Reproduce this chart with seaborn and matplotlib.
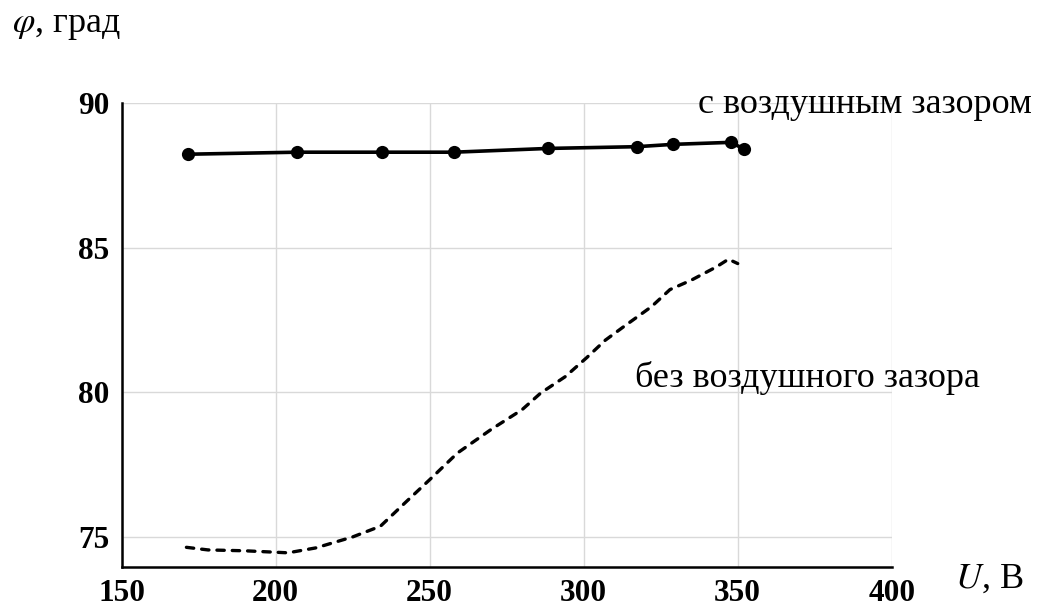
import pandas as pd
import seaborn as sns
from matplotlib import pyplot as plt

# с воздушным зазором (точки)
u_gap = [171.6, 206.8, 234.6, 257.9, 288.5, 317.2, 328.9, 347.7, 352.1]
phi_gap = [88.23, 88.30, 88.30, 88.30, 88.43, 88.49, 88.57, 88.64, 88.41]

# без воздушного зазора (пунктир)
u_nogap = [171, 178, 190, 204, 213, 225, 234, 242, 250, 259, 270, 280, 286,
           294, 301, 307, 313, 322, 328, 335, 343, 347, 350]
phi_nogap = [74.64, 74.55, 74.52, 74.45, 74.62, 75.0, 75.37, 76.18, 76.98, 77.9,
             78.72, 79.4, 79.97, 80.54, 81.2, 81.8, 82.27, 82.96, 83.55, 83.88,
             84.33, 84.6, 84.45]

x_ticks = [150, 200, 250, 300, 350, 400]
y_ticks = [75, 80, 85, 90]

df_gap = pd.DataFrame({"U": u_gap, "phi": phi_gap})
df_nogap = pd.DataFrame({"U": u_nogap, "phi": phi_nogap})

sns.set_theme(style="whitegrid")
plt.rcParams["font.family"] = ["Liberation Serif", "DejaVu Serif"]
plt.rcParams["mathtext.fontset"] = "stix"
plt.rcParams["text.color"] = "black"

fig = plt.figure(figsize=(10.37, 6.11), dpi=100)
ax = fig.add_axes([0.1174, 0.0725, 0.7425, 0.7589])

sns.lineplot(data=df_gap, x="U", y="phi", ax=ax, color="black", linewidth=2.6,
             marker="o", markersize=9.5, markeredgewidth=0, sort=False)
sns.lineplot(data=df_nogap, x="U", y="phi", ax=ax, color="black", linewidth=2.4,
             sort=False, dashes=False)
ax.lines[-1].set_dashes([2.2, 2.4])
ax.lines[-1].set_dash_capstyle("round")

ax.set_xlim(150, 400)
ax.set_ylim(73.97, 90)
ax.set_xticks(x_ticks)
ax.set_yticks(y_ticks)
ax.set_xlabel("")
ax.set_ylabel("")

ax.grid(True, color="#d9d9d9", linewidth=1.0)
for side in ["top", "right"]:
    ax.spines[side].set_visible(False)
for side in ["left", "bottom"]:
    ax.spines[side].set_color("black")
    ax.spines[side].set_linewidth(1.8)

ax.tick_params(axis="both", direction="inout", length=12, width=1.6, color="black",
               labelcolor="black", labelsize=22.5, pad=3)
for lab in ax.get_xticklabels() + ax.get_yticklabels():
    lab.set_fontweight("bold")

ax.text(337, 89.67, "с воздушным зазором", fontsize=26, ha="left", va="baseline")
ax.text(316.7, 80.19, "без воздушного зазора", fontsize=26, ha="left", va="baseline")

fig.text(0.012, 1 - 32 / 611, r"$\varphi$, град", fontsize=26, ha="left", va="baseline")
fig.text(0.921, 1 - 588 / 611, r"$U$, В", fontsize=26, ha="left", va="baseline")

plt.savefig("out.png", dpi=100)
